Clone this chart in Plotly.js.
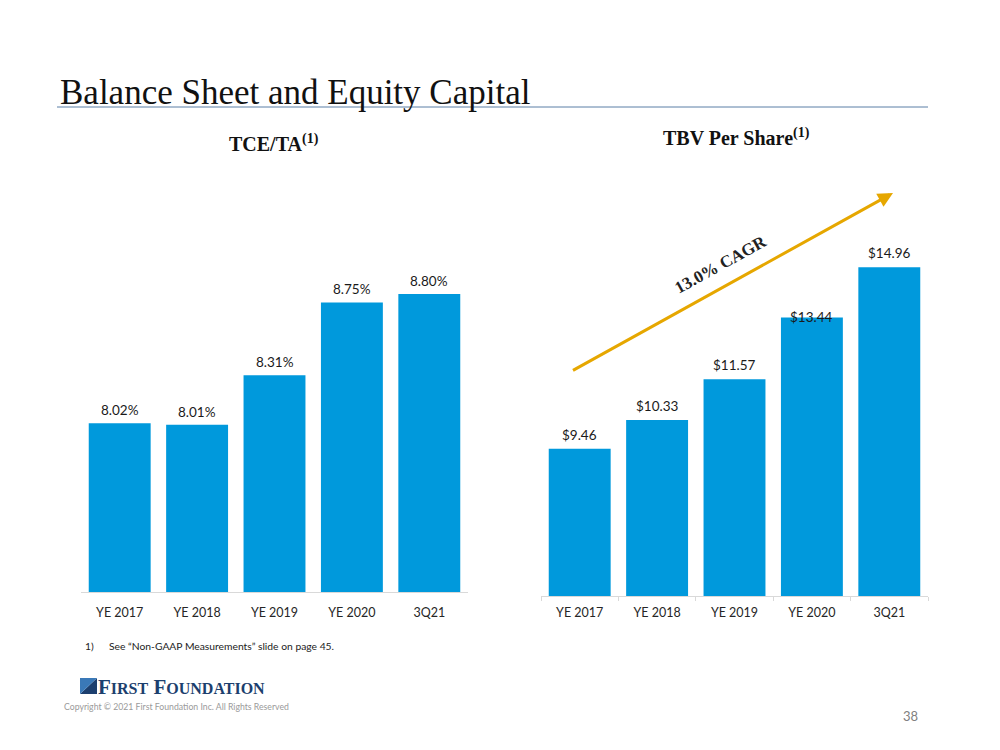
<!DOCTYPE html>
<html>
<head>
<meta charset="utf-8">
<script src="https://cdn.plot.ly/plotly-3.0.1.min.js"></script>
<style>html,body{margin:0;padding:0;background:#fff;}#chart{width:1000px;height:750px;}</style>
</head>
<body>
<div id="chart"></div>
<script>
// ---- data ----
const categories = ['YE 2017', 'YE 2018', 'YE 2019', 'YE 2020', '3Q21'];
const tceValues = [8.02, 8.01, 8.31, 8.75, 8.80];
const tbvValues = [9.46, 10.33, 11.57, 13.44, 14.96];
const tceLabels = ['8.02%', '8.01%', '8.31%', '8.75%', '8.80%'];
const tbvLabels = ['$9.46', '$10.33', '$11.57', '$13.44', '$14.96'];
const pageTitle = 'Balance Sheet and Equity Capital';
const leftTitle = 'TCE/TA';
const rightTitle = 'TBV Per Share';
const cagrText = '13.0% CAGR';
const footnote = 'See \u201cNon-GAAP Measurements\u201d slide on page 45.';
const copyright = 'Copyright \u00a9 2021 First Foundation Inc. All Rights Reserved';
const pageNumber = '38';

// ---- styling ----
const BAR = '#0099DC';
const SANS = 'Lato, "Open Sans", sans-serif';
const SERIF = '"Liberation Serif", "DejaVu Serif", serif';
const NAVY = '#1C3F6E';
const GOLD = '#E6A700';

const traces = [
  {type: 'bar', x: categories, y: tceValues, xaxis: 'x', yaxis: 'y',
   marker: {color: BAR}, hoverinfo: 'skip'},
  {type: 'bar', x: categories, y: tbvValues, xaxis: 'x2', yaxis: 'y2',
   marker: {color: BAR}, hoverinfo: 'skip'}
];

const annotations = [];
tceLabels.forEach((t, i) => annotations.push({
  xref: 'x', yref: 'y', x: categories[i], y: tceValues[i], text: t,
  showarrow: false, yanchor: 'bottom', yshift: 3,
  font: {family: SANS, size: 13.5, color: '#1a1a1a'}
}));
tbvLabels.forEach((t, i) => {
  const overlap = (i === 3);
  annotations.push({
    xref: 'x2', yref: 'y2', x: categories[i], y: tbvValues[i], text: t,
    showarrow: false, yanchor: overlap ? 'middle' : 'bottom', yshift: overlap ? 0 : 4,
    font: {family: SANS, size: 13.5, color: '#1a1a1a'}
  });
});

// page title
annotations.push({xref: 'paper', yref: 'paper', x: 0.058, y: 1 - 114/750, xanchor: 'left', yanchor: 'bottom',
  text: pageTitle, showarrow: false, font: {family: SERIF, size: 35, color: '#111'}});
// chart titles
annotations.push({xref: 'paper', yref: 'paper', x: 0.274, y: 1 - 143/750, xanchor: 'center', yanchor: 'middle',
  text: '<b>' + leftTitle + '<sup>(1)</sup></b>', showarrow: false, font: {family: SERIF, size: 20, color: '#111'}});
annotations.push({xref: 'paper', yref: 'paper', x: 0.736, y: 1 - 137/750, xanchor: 'center', yanchor: 'middle',
  text: '<b>' + rightTitle + '<sup>(1)</sup></b>', showarrow: false, font: {family: SERIF, size: 20, color: '#111'}});
// CAGR arrow
annotations.push({xref: 'paper', yref: 'paper', x: 0.893, y: 1 - 193/750, ax: -323, ay: 179,
  text: ' ', showarrow: true, arrowhead: 2, arrowsize: 1, arrowwidth: 3, arrowcolor: GOLD});
annotations.push({xref: 'paper', yref: 'paper', x: 0.721, y: 1 - 265/750, xanchor: 'center', yanchor: 'middle',
  text: '<b>' + cagrText + '</b>', textangle: -29, showarrow: false, font: {family: SERIF, size: 17, color: '#222'}});
// footnote
annotations.push({xref: 'paper', yref: 'paper', x: 0.083, y: 1 - 646/750, xanchor: 'left', yanchor: 'middle',
  text: '1)', showarrow: false, font: {family: SANS, size: 10.3, color: '#222'}});
annotations.push({xref: 'paper', yref: 'paper', x: 0.107, y: 1 - 646/750, xanchor: 'left', yanchor: 'middle',
  text: footnote, showarrow: false, font: {family: SANS, size: 10.3, color: '#222'}});
// logo text
annotations.push({xref: 'paper', yref: 'paper', x: 0.096, y: 1 - 687/750, xanchor: 'left', yanchor: 'middle',
  text: '<b>F<span style="font-size:16px">IRST</span> F<span style="font-size:16px">OUNDATION</span></b>',
  showarrow: false, font: {family: SERIF, size: 21, color: NAVY}});
annotations.push({xref: 'paper', yref: 'paper', x: 0.062, y: 1 - 706/750, xanchor: 'left', yanchor: 'middle',
  text: copyright, showarrow: false, font: {family: SANS, size: 8.7, color: '#9a9a9a'}});
annotations.push({xref: 'paper', yref: 'paper', x: 0.92, y: 1 - 716/750, xanchor: 'right', yanchor: 'middle',
  text: pageNumber, showarrow: false, font: {family: SANS, size: 13, color: '#808080'}});

const shapes = [
  {type: 'line', xref: 'paper', yref: 'paper', x0: 0.057, x1: 0.928, y0: 1 - 107/750, y1: 1 - 107/750,
   line: {color: '#5A7EA6', width: 1}},
  // logo mark
  {type: 'path', xref: 'paper', yref: 'paper',
   path: 'M 0.080 0.0747 L 0.097 0.0960 L 0.097 0.0747 Z', fillcolor: NAVY, line: {width: 0}},
  {type: 'path', xref: 'paper', yref: 'paper',
   path: 'M 0.080 0.0747 L 0.080 0.0960 L 0.097 0.0960 Z', fillcolor: '#3A79B8', line: {width: 0}}
];

const layout = {
  width: 1000, height: 750,
  margin: {l: 0, r: 0, t: 0, b: 0},
  paper_bgcolor: '#fff', plot_bgcolor: 'rgba(0,0,0,0)',
  showlegend: false, bargap: 0.2,
  font: {family: SANS, color: '#262626'},
  xaxis: {domain: [0.081, 0.468], anchor: 'y', showline: true, linecolor: '#D9D9D9', linewidth: 1,
          ticks: '', showgrid: false, zeroline: false, ticklabelstandoff: 9,
          tickfont: {family: SANS, size: 12.5, color: '#262626'}, fixedrange: true},
  yaxis: {domain: [1 - 592/750, 1 - 160/750], range: [7.0, 7.0 + 432/165.5], visible: false, fixedrange: true},
  xaxis2: {domain: [0.541, 0.928], anchor: 'y2', showline: true, linecolor: '#D9D9D9', linewidth: 1,
           ticks: 'outside', tickson: 'boundaries', ticklen: 4, tickcolor: '#D9D9D9', ticklabelstandoff: 5,
           showgrid: false, zeroline: false, tickfont: {family: SANS, size: 12.5, color: '#262626'}, fixedrange: true},
  yaxis2: {domain: [1 - 596/750, 1 - 160/750], range: [5.0, 5.0 + 436/33.0], visible: false, fixedrange: true},
  annotations: annotations,
  shapes: shapes
};

Plotly.newPlot('chart', traces, layout, {displayModeBar: false, staticPlot: true});
</script>
</body>
</html>
